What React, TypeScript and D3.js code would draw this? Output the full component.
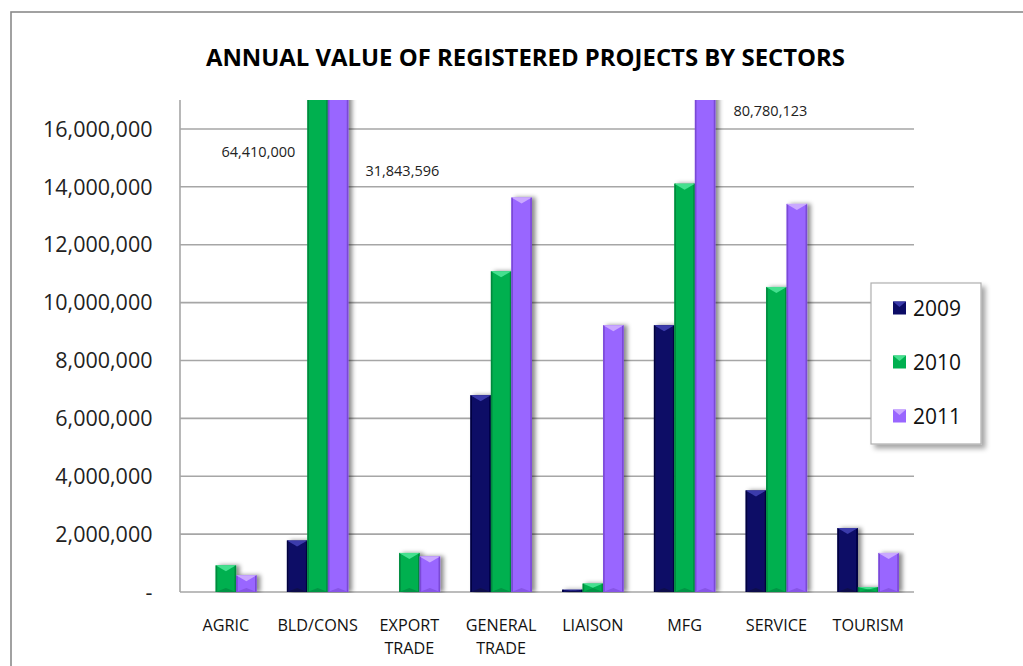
import React from "react";
import * as d3 from "d3";

const categories = ["AGRIC", "BLD/CONS", "EXPORT TRADE", "GENERAL TRADE", "LIAISON", "MFG", "SERVICE", "TOURISM"];
const seriesNames = ["2009", "2010", "2011"];
const values2009 = [0, 1780000, 0, 6800000, 80000, 9220000, 3510000, 2210000];
const values2010 = [920000, 64410000, 1350000, 11080000, 290000, 14110000, 10540000, 170000];
const values2011 = [580000, 31843596, 1230000, 13630000, 9220000, 80780123, 13410000, 1350000];
const yTicks = [0, 2000000, 4000000, 6000000, 8000000, 10000000, 12000000, 14000000, 16000000];
const yMax = 17000000;
// labels for values that run off the top of the chart
const overflowLabels = [
  { category: "BLD/CONS", series: "2010", value: 64410000 },
  { category: "BLD/CONS", series: "2011", value: 31843596 },
  { category: "MFG", series: "2011", value: 80780123 },
];
const title = "ANNUAL VALUE OF REGISTERED PROJECTS BY SECTORS";

const seriesValues = [values2009, values2010, values2011];
const palette = [
  { base: "#0c0c66", top: "#3b3bab", edge: "#05053f", bottom: "#08084c" },
  { base: "#00b050", top: "#45e08f", edge: "#008a3e", bottom: "#009444" },
  { base: "#9966ff", top: "#caa8ff", edge: "#7a4ad6", bottom: "#8655e6" },
];
// manual placement offsets (px) for overflow labels, relative to the bar
const labelPlacement = [
  { side: "left", dx: -49, y: 157 },
  { side: "right", dx: 54, y: 176 },
  { side: "right", dx: 55, y: 116 },
];

const W = 1023;
const H = 666;
const plot = { left: 180, right: 914, top: 100, bottom: 592 };
const font = "'Open Sans', sans-serif";

export default function App() {
  const x0 = d3.scaleBand<string>().domain(categories).range([plot.left, plot.right]).paddingInner(0.33).paddingOuter(0.165);
  const x1 = d3.scaleBand<string>().domain(seriesNames).range([0, x0.bandwidth()]).padding(0);
  const y = d3.scaleLinear().domain([0, yMax]).range([plot.bottom, plot.top]);
  const fmt = d3.format(",");
  const bw = x1.bandwidth();

  const bars: React.ReactNode[] = [];
  seriesNames.forEach((s, si) => {
    const c = palette[si];
    categories.forEach((cat, ci) => {
      const v = seriesValues[si][ci];
      if (!v) return;
      const bx = (x0(cat) as number) + (x1(s) as number);
      const by = y(v);
      const bh = y(0) - by;
      const bev = Math.min(6, bh / 2);
      const e = 1.6;
      bars.push(
        <g key={`${s}-${cat}`}>
          <rect x={bx} y={by} width={bw} height={bh} fill={c.base} />
          <rect x={bx} y={by} width={e} height={bh} fill={c.edge} />
          <rect x={bx + bw - e} y={by} width={e} height={bh} fill={c.edge} />
          <polygon points={`${bx},${by} ${bx + bw},${by} ${bx + bw / 2},${by + bev}`} fill={c.top} />
          <polygon points={`${bx},${y(0)} ${bx + bw},${y(0)} ${bx + bw / 2},${y(0) - Math.min(4, bh / 2)}`} fill={c.bottom} />
        </g>
      );
    });
  });

  return (
    <svg width={W} height={H} style={{ position: "absolute", left: 0, top: 0, background: "#fff" }} fontFamily={font}>
      <defs>
        <clipPath id="plotClip">
          <rect x={plot.left - 2} y={plot.top} width={plot.right - plot.left + 20} height={plot.bottom - plot.top + 1} />
        </clipPath>
        <filter id="barShadow" x="-20%" y="-5%" width="160%" height="110%">
          <feDropShadow dx="3.5" dy="0" stdDeviation="2.2" floodColor="#000" floodOpacity="0.45" />
        </filter>
        <filter id="legShadow" x="-10%" y="-10%" width="130%" height="130%">
          <feDropShadow dx="4" dy="4" stdDeviation="2.5" floodColor="#000" floodOpacity="0.35" />
        </filter>
      </defs>
      <rect x={0} y={0} width={W} height={H} fill="#fff" />
      <rect x={11} y={12} width={W + 20} height={H + 20} fill="none" stroke="#8a8a8a" strokeWidth={1.6} />

      <text x={525.5} y={66} textAnchor="middle" fontSize={23.9} fontWeight={700} fill="#000">{title}</text>

      {/* gridlines */}
      {yTicks.filter((t) => t > 0).map((t) => (
        <line key={t} x1={plot.left} x2={plot.right} y1={y(t)} y2={y(t)} stroke="#a6a6a6" strokeWidth={1.6} />
      ))}
      <line x1={plot.left} x2={plot.left} y1={plot.top} y2={plot.bottom} stroke="#a6a6a6" strokeWidth={1.6} />
      <line x1={plot.left} x2={plot.right} y1={plot.bottom} y2={plot.bottom} stroke="#a6a6a6" strokeWidth={1.6} />

      {/* y tick labels */}
      {yTicks.map((t) => (
        <text key={t} x={152.5} y={y(t)} dy="0.36em" textAnchor="end" fontSize={21.5} fill="#222">
          {t === 0 ? "-" : fmt(t)}
        </text>
      ))}

      {/* bars */}
      <g clipPath="url(#plotClip)">
        <g filter="url(#barShadow)">{bars}</g>
      </g>

      {/* category labels */}
      {categories.map((cat) => {
        const cx = (x0(cat) as number) + x0.bandwidth() / 2;
        const lines = cat.split(" ");
        return (
          <text key={cat} x={cx} y={631} textAnchor="middle" fontSize={16.2} fill="#111">
            {lines.map((l, i) => (
              <tspan key={i} x={cx} dy={i === 0 ? 0 : 23}>{l}</tspan>
            ))}
          </text>
        );
      })}

      {/* overflow value labels */}
      {overflowLabels.map((o, i) => {
        const p = labelPlacement[i];
        const bx = (x0(o.category) as number) + (x1(o.series) as number);
        const lx = p.side === "left" ? bx + p.dx : bx + bw + p.dx;
        return (
          <text key={i} x={lx} y={p.y} textAnchor="middle" fontSize={14.5} fill="#222">{fmt(o.value)}</text>
        );
      })}

      {/* legend */}
      <g>
        <rect x={871} y={283} width={110} height={161} fill="#fff" stroke="#b0b0b0" strokeWidth={1.2} filter="url(#legShadow)" />
        {seriesNames.map((s, i) => {
          const cy = 308 + i * 54;
          const c = palette[i];
          return (
            <g key={s}>
              <rect x={893} y={cy - 6.5} width={13} height={13} fill={c.base} />
              <polygon points={`${893},${cy - 6.5} ${906},${cy - 6.5} ${899.5},${cy - 1}`} fill={c.top} />
              <text x={913} y={cy} dy="0.36em" fontSize={21} fill="#111">{s}</text>
            </g>
          );
        })}
      </g>
    </svg>
  );
}
